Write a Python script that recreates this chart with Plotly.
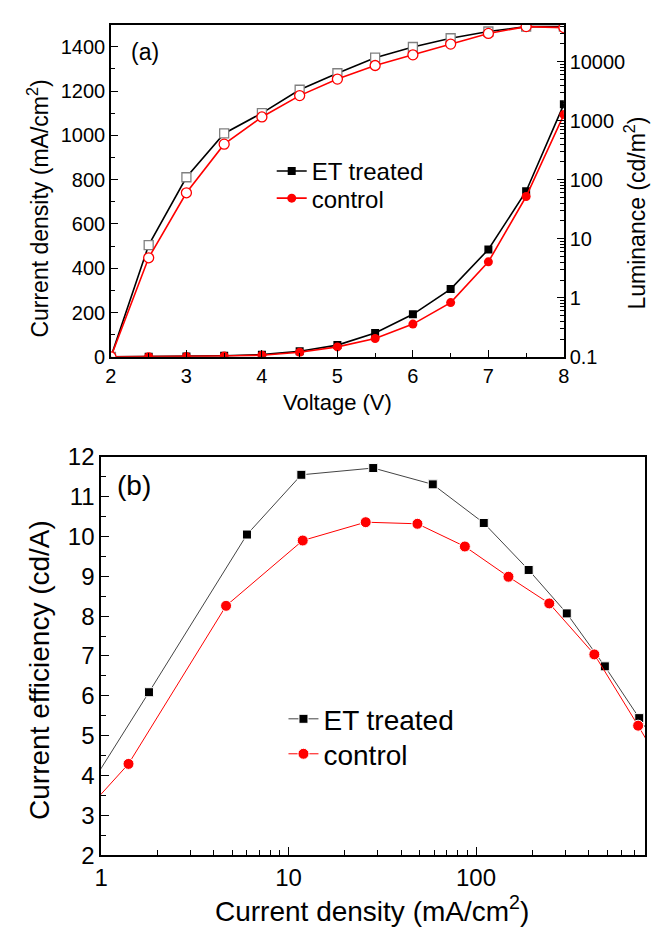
import plotly.graph_objects as go

# ---------------- data ----------------
voltage = [2, 2.5, 3, 3.5, 4, 4.5, 5, 5.5, 6, 6.5, 7, 7.5, 8]
j_et = [0, 0.8, 2, 5, 10, 25, 53, 108, 192, 306, 485, 748, 1141]
j_ctrl = [0, 0.5, 1.3, 3.5, 7.5, 21, 45, 83, 148, 245, 429, 724, 1094]
lum_et = [0.1, 7.8, 110, 607, 1343, 3335, 6350, 11640, 17650, 24830, 32350, 39100, 39100]
lum_ctrl = [0.1, 4.76, 60, 400, 1154, 2655, 5058, 8590, 13030, 19770, 30000, 39100, 37660]

ce_j_et = [0.7, 1.8, 6.0, 11.7, 28.3, 58.8, 110, 191, 305, 487, 743, 1141]
ce_et = [3.02, 6.09, 10.05, 11.55, 11.72, 11.31, 10.34, 9.16, 8.07, 6.74, 5.44, 4.12]
ce_j_ctrl = [0.6, 1.40, 4.64, 11.9, 25.8, 48.7, 87.2, 149, 246, 428, 733, 1094]
ce_ctrl = [2.38, 4.29, 8.26, 9.90, 10.36, 10.32, 9.75, 8.99, 8.32, 7.04, 5.25, 3.86]

names = ["ET treated", "control"]
lum_ticks = [0.1, 1, 10, 100, 1000, 10000]
lum_labels = ["0.1", "1", "10", "100", "1000", "10000"]

FONT = "Liberation Sans, Arial, sans-serif"
W, H = 664, 939
RED = "#ff0000"

def px_x(x):
    return x / W

def px_y(y):
    return 1 - y / H

log_minor = [m * 10 ** k for k in range(-1, 5) for m in range(2, 10)]

fig = go.Figure()

# ---------------- panel (a) ----------------
fig.add_trace(go.Scatter(x=voltage, y=lum_et, xaxis="x", yaxis="y2", mode="lines+markers",
                         line=dict(color="black", width=1.6),
                         marker=dict(symbol="square", size=9, color="white",
                                     line=dict(color="#808080", width=1.3)),
                         showlegend=False))
fig.add_trace(go.Scatter(x=voltage, y=lum_ctrl, xaxis="x", yaxis="y2", mode="lines+markers",
                         line=dict(color=RED, width=1.6),
                         marker=dict(symbol="circle", size=10, color="white",
                                     line=dict(color=RED, width=1.3)),
                         showlegend=False))
fig.add_trace(go.Scatter(x=voltage, y=j_et, xaxis="x", yaxis="y", mode="lines+markers",
                         name=names[0], legend="legend",
                         line=dict(color="black", width=1.6),
                         marker=dict(symbol="square", size=8, color="black")))
fig.add_trace(go.Scatter(x=voltage, y=j_ctrl, xaxis="x", yaxis="y", mode="lines+markers",
                         name=names[1], legend="legend2",
                         line=dict(color=RED, width=1.6),
                         marker=dict(symbol="circle", size=9, color=RED)))

# ---------------- panel (b) ----------------
fig.add_trace(go.Scatter(x=ce_j_et, y=ce_et, xaxis="x3", yaxis="y3", mode="lines+markers",
                         name=names[0], legend="legend3",
                         line=dict(color="#444444", width=1),
                         marker=dict(symbol="square", size=9, color="black",
                                     line=dict(color="white", width=1))))
fig.add_trace(go.Scatter(x=ce_j_ctrl, y=ce_ctrl, xaxis="x3", yaxis="y3", mode="lines+markers",
                         name=names[1], legend="legend4",
                         line=dict(color=RED, width=1),
                         marker=dict(symbol="circle", size=11, color=RED,
                                     line=dict(color="white", width=1))))

axcommon = dict(showline=True, linecolor="black", linewidth=1.5, mirror=True,
                ticks="inside", tickcolor="black", showgrid=False, zeroline=False)

fa = dict(family=FONT, size=20, color="black")
fb = dict(family=FONT, size=24, color="black")

fig.update_layout(
    width=W, height=H, margin=dict(l=0, r=0, t=0, b=0),
    paper_bgcolor="white", plot_bgcolor="white",
    font=dict(family=FONT, color="black"),
    xaxis=dict(**axcommon, domain=[px_x(106), px_x(568)], anchor="y",
               range=[2, 8], tickvals=[2, 3, 4, 5, 6, 7, 8], ticklen=7, tickwidth=1.3,
               minor=dict(tickvals=[2.5, 3.5, 4.5, 5.5, 6.5, 7.5], ticks="inside", ticklen=4,
                          tickcolor="black"),
               tickfont=fa),
    yaxis=dict(**axcommon, domain=[px_y(353), px_y(11)], anchor="x",
               range=[0, 1500], tickvals=[0, 200, 400, 600, 800, 1000, 1200, 1400],
               ticklen=7, tickwidth=1.3,
               minor=dict(tickvals=[100, 300, 500, 700, 900, 1100, 1300], ticks="inside",
                          ticklen=4, tickcolor="black"),
               tickfont=fa),
    yaxis2=dict(showline=True, linecolor="black", linewidth=1.5, ticks="inside",
                tickcolor="black", showgrid=False, zeroline=False,
                overlaying="y", side="right", anchor="x", type="log",
                range=[-1, 4.625], tickvals=lum_ticks, ticktext=lum_labels,
                ticklen=7, tickwidth=1.3,
                minor=dict(tickvals=log_minor, ticks="inside", ticklen=4, tickcolor="black"),
                tickfont=fa),
    xaxis3=dict(**axcommon, domain=[px_x(96), px_x(651)], anchor="y3", type="log",
                range=[0, 2.903], tickvals=[1, 10, 100], ticktext=["1", "10", "100"],
                ticklen=8, tickwidth=1.3,
                minor=dict(tickvals=[m * 10 ** k for k in range(0, 3) for m in range(2, 10)],
                           ticks="inside", ticklen=5, tickcolor="black"),
                tickfont=fb),
    yaxis3=dict(**axcommon, domain=[px_y(866), px_y(456)], anchor="x3",
                range=[2, 12], tickvals=list(range(2, 13)), ticklen=8, tickwidth=1.3,
                minor=dict(tickvals=[2.5 + i for i in range(10)], ticks="inside", ticklen=5,
                           tickcolor="black"),
                tickfont=fb),
)

def ann(text, x, y, size, angle=0, xanchor="center"):
    return dict(text=text, x=px_x(x), y=px_y(y), xref="paper", yref="paper",
                xanchor=xanchor, yanchor="middle", showarrow=False, textangle=angle,
                font=dict(family=FONT, size=size, color="black"))

fig.update_layout(annotations=[
    ann("(a)", 124, 39, 23, xanchor="left"),
    ann("(b)", 110, 485, 28, xanchor="left"),
    ann("Voltage (V)", 337, 400, 22),
    ann("Current density (mA/cm<sup>2</sup>)", 32, 200, 23, angle=-90),
    ann("Luminance (cd/m<sup>2</sup>)", 641, 205, 23, angle=-90),
    ann("Current density (mA/cm<sup>2</sup>)", 372, 922, 28),
    ann("Current efficiency (cd/A)", 33, 675, 28, angle=-90),
])

leg_a = dict(font=dict(family=FONT, size=24, color="black"), bgcolor="rgba(0,0,0,0)",
             xanchor="left", yanchor="middle", itemwidth=30)
leg_b = dict(font=dict(family=FONT, size=28, color="black"), bgcolor="rgba(0,0,0,0)",
             xanchor="left", yanchor="middle", itemwidth=30)
fig.update_layout(
    legend=dict(**leg_a, x=px_x(270), y=px_y(162)),
    legend2=dict(**leg_a, x=px_x(270), y=px_y(190)),
    legend3=dict(**leg_b, x=px_x(282), y=px_y(726)),
    legend4=dict(**leg_b, x=px_x(282), y=px_y(762)),
)

fig.write_html("out.html")
